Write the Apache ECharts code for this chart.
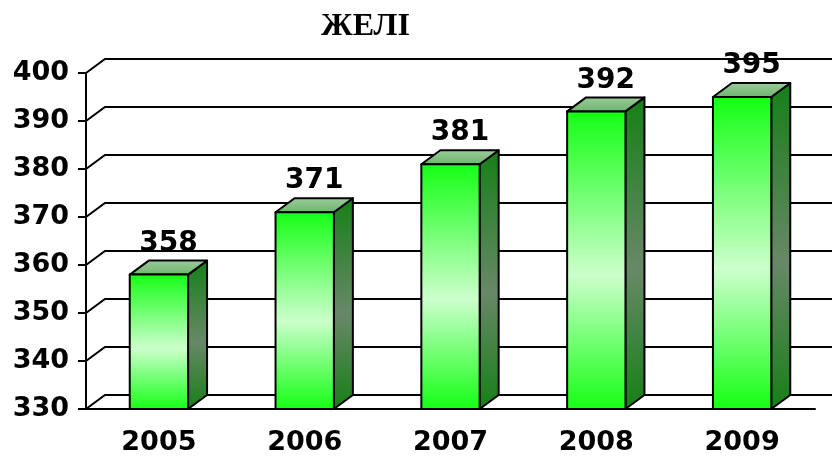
<!DOCTYPE html>
<html><head><meta charset="utf-8">
<script src="https://cdn.jsdelivr.net/npm/echarts@6/dist/echarts.min.js"></script>
<style>html,body{margin:0;padding:0;background:#fff}#c{width:832px;height:457px}</style>
</head><body><div id="c"></div>
<script>
const chartTitle = 'ЖЕЛІ';
const categories = ['2005', '2006', '2007', '2008', '2009'];
const values = [358, 371, 381, 392, 395];
const yMin = 330, yMax = 400, yStep = 10;
const gridValues = [330, 340, 350, 360, 370, 380, 390, 400];

const DX = 19, DY = -14;
const chart = echarts.init(document.getElementById('c'), null, {renderer: 'canvas'});
const axisFont = {fontFamily: 'DejaVu Sans', fontWeight: 'bold', fontSize: 27, color: '#000'};

const option = {
  animation: false,
  graphic: [{
    type: 'text', left: 321, top: 11,
    style: {text: chartTitle, font: 'bold 32px "Liberation Serif"', fill: '#000'}
  }],
  grid: {left: 86, right: 17, top: 73, bottom: 48},
  xAxis: {
    type: 'category', data: categories,
    axisLine: {lineStyle: {color: '#000', width: 2}},
    axisTick: {length: 7, lineStyle: {color: '#000', width: 2}},
    axisLabel: Object.assign({margin: 20}, axisFont)
  },
  yAxis: {
    type: 'value', min: yMin, max: yMax, interval: yStep,
    axisLine: {show: true, lineStyle: {color: '#000', width: 2}},
    axisTick: {show: true, length: 8, lineStyle: {color: '#000', width: 2}},
    splitLine: {show: false},
    axisLabel: Object.assign({margin: 17}, axisFont)
  },
  series: [
    {
      type: 'custom', z: 1, silent: true,
      data: gridValues.map(v => [0, v]),
      encode: {x: 0, y: 1},
      renderItem: function (params, api) {
        const cs = params.coordSys;
        const y = api.coord([0, api.value(1)])[1];
        return {
          type: 'polyline',
          shape: {points: [[cs.x, y], [cs.x + DX, y + DY], [cs.x + cs.width + 40, y + DY]]},
          style: {stroke: '#000', lineWidth: 2, fill: null}
        };
      }
    },
    {
      type: 'custom', z: 3,
      data: values.map((v, i) => [i, v]),
      encode: {x: 0, y: 1},
      renderItem: function (params, api) {
        const i = api.value(0), v = api.value(1);
        const top = api.coord([i, v]);
        const base = api.coord([i, yMin]);
        const band = api.size([1, 0])[0];
        const w = band * 0.4;
        const x0 = top[0] - w / 2, x1 = top[0] + w / 2, yt = top[1], yb = base[1];
        const edge = {stroke: '#000', lineWidth: 2, lineJoin: 'round'};
        return {
          type: 'group',
          children: [
            {
              type: 'polygon',
              shape: {points: [[x1, yt], [x1 + DX, yt + DY], [x1 + DX, yb + DY], [x1, yb]]},
              style: Object.assign({fill: new echarts.graphic.LinearGradient(0, 0, 0, 1, [
                {offset: 0, color: '#167f16'}, {offset: 0.55, color: '#688868'}, {offset: 1, color: '#167f16'}])}, edge)
            },
            {
              type: 'polygon',
              shape: {points: [[x0, yt], [x0 + DX, yt + DY], [x1 + DX, yt + DY], [x1, yt]]},
              style: Object.assign({fill: new echarts.graphic.LinearGradient(0, 0, 0, 1, [
                {offset: 0, color: '#9ccc9c'}, {offset: 1, color: '#6cb46c'}])}, edge)
            },
            {
              type: 'rect',
              shape: {x: x0, y: yt, width: w, height: yb - yt},
              style: Object.assign({fill: new echarts.graphic.LinearGradient(0, 0, 0, 1, [
                {offset: 0, color: '#14ff14'}, {offset: 0.55, color: '#ccffcc'}, {offset: 1, color: '#14ff14'}])}, edge)
            },
            {
              type: 'text',
              style: {text: String(v), x: (x0 + x1 + DX) / 2, y: yt + DY - 17, align: 'center', verticalAlign: 'middle',
                font: 'bold 28px "DejaVu Sans"', fill: '#000'}
            }
          ]
        };
      }
    }
  ]
};
chart.setOption(option);
</script>
</body></html>
